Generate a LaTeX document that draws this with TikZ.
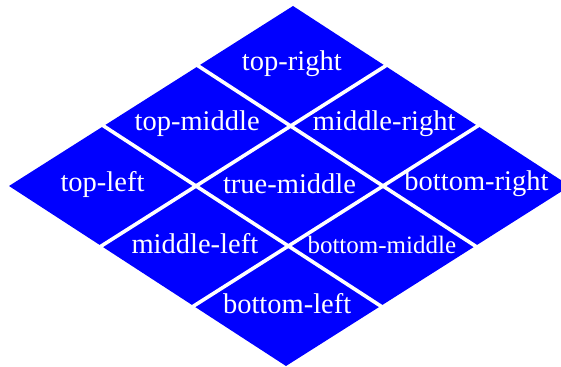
\documentclass[tikz,border=0pt]{standalone}
\usepackage{fontspec}
\setmainfont{Liberation Serif}
\usetikzlibrary{calc}
\definecolor{cellblue}{RGB}{0,0,255}
\tikzset{
  lbl/.style={text=white, font=\fontsize{28.5}{30}\selectfont, inner sep=0pt},
  lblsmall/.style={lbl, font=\fontsize{25}{26}\selectfont},
  gap/.style={white, line width=3.6pt, shorten <=-3pt, shorten >=-3pt}
}
\begin{document}
\begin{tikzpicture}[x=1pt,y=-1pt]
\useasboundingbox (0,0) rectangle (561,366);
\clip (0,0) rectangle (561,366);
\foreach \i in {0,...,3}{
  \foreach \j in {0,...,3}{
    \coordinate (p\i\j) at ({9+\i*94.67+\j*92.33},{186-\i*60+\j*60});
  }
}
\fill[cellblue] (p00) -- (p30) -- (p33) -- (p03) -- cycle;
\draw[gap] (p10) -- (p13);
\draw[gap] (p20) -- (p23);
\draw[gap] (p01) -- (p31);
\draw[gap] (p02) -- (p32);
\node[lbl] (tl) at ($(p00)!0.5!(p11)+(0,-2)$) {top-left};
\node[lbl] (tm) at ($(p10)!0.5!(p21)+(0,-2)$) {top-middle};
\node[lbl] (tr) at ($(p20)!0.5!(p31)+(0,-2)$) {top-right};
\node[lbl] (ml) at ($(p01)!0.5!(p12)+(0,-2)$) {middle-left};
\node[lbl] (mm) at ($(p11)!0.5!(p22)+(0,-2)$) {true-middle};
\node[lbl] (mr) at ($(p21)!0.5!(p32)+(0,-2)$) {middle-right};
\node[lbl] (bl) at ($(p02)!0.5!(p13)+(0,-2)$) {bottom-left};
\node[lblsmall] (bm) at ($(p12)!0.5!(p23)+(0,-1)$) {bottom-middle};
\node[lbl] (br) at ($(p22)!0.5!(p33)+(0,-2)$) {bottom-right};
\end{tikzpicture}
\end{document}
